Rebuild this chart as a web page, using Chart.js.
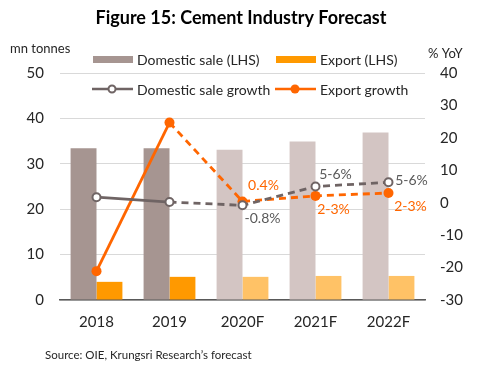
<!DOCTYPE html>
<html>
<head>
<meta charset="utf-8">
<script src="https://cdn.jsdelivr.net/npm/chart.js@4/dist/chart.umd.min.js"></script>
<style>
  html, body { margin: 0; padding: 0; background: #fff; }
  #wrap { width: 501px; height: 370px; }
</style>
</head>
<body>
<div id="wrap"><canvas id="c" width="501" height="370"></canvas></div>
<script>
// data
var years = ['2018', '2019', '2020F', '2021F', '2022F'];
var domesticSale = [33.4, 33.4, 33.1, 34.9, 36.9];
var exportSale = [4.0, 5.1, 5.1, 5.3, 5.3];
var domesticGrowth = [1.7, 0.2, -0.8, 5.0, 6.3];
var exportGrowth = [-21.1, 24.7, 0.4, 2.1, 3.0];
var domesticTags = [null, null, '-0.8%', '5-6%', '5-6%'];
var exportTags = [null, null, '0.4%', '2-3%', '2-3%'];
var leftRange = [0, 50];
var rightRange = [-30, 40];

var FONT = 'Lato, "Open Sans", sans-serif';
var C = {
  dom: '#A69591', domF: '#D3C5C3',
  exp: '#FF9900', expF: '#FFC266',
  domLine: '#6F6464', expLine: '#FF6600',
  grid: '#D9D9D9', axis: '#595959', text: '#262626'
};
var nActual = 2; // first two years are actual, rest are forecast

function shade(a, f) {
  return years.map(function(y, i) { return i < nActual ? a : f; });
}
function dashAfter(ctx) {
  return ctx.p0DataIndex >= nActual - 1 ? [7, 5] : undefined;
}

// label offsets relative to point (styling, not data)
var tagOffsets = {
  2: { dom: [20, 13], exp: [21, -16] },
  3: { dom: [20, -12], exp: [18, 14] },
  4: { dom: [23, -2], exp: [22, 13] }
};

var decor = {
  id: 'decor',
  afterDraw: function(chart) {
    var ctx = chart.ctx;
    ctx.save();
    // title
    ctx.fillStyle = '#000';
    ctx.font = 'bold 18px ' + FONT;
    ctx.textAlign = 'center';
    ctx.textBaseline = 'middle';
    ctx.fillText('Figure 15: Cement Industry Forecast', 241, 18);
    // axis units
    ctx.fillStyle = C.text;
    ctx.font = '13px ' + FONT;
    ctx.textAlign = 'left';
    ctx.fillText('mn tonnes', 10, 49);
    ctx.fillText('% YoY', 428, 54);
    // source
    ctx.font = '11.5px ' + FONT;
    ctx.fillText('Source: OIE, Krungsri Research\u2019s forecast', 45, 355);

    // legend
    ctx.font = '14px ' + FONT;
    ctx.fillStyle = C.dom; ctx.fillRect(93, 56, 40, 7);
    ctx.fillStyle = C.exp; ctx.fillRect(276, 56, 40, 7);
    ctx.fillStyle = C.text;
    ctx.fillText('Domestic sale (LHS)', 137, 60);
    ctx.fillText('Export (LHS)', 320, 60);
    ctx.lineWidth = 2.5;
    ctx.strokeStyle = C.domLine;
    ctx.beginPath(); ctx.moveTo(92, 89); ctx.lineTo(133, 89); ctx.stroke();
    ctx.beginPath(); ctx.arc(112, 89, 3.5, 0, Math.PI * 2);
    ctx.fillStyle = '#fff'; ctx.fill(); ctx.lineWidth = 2; ctx.stroke();
    ctx.lineWidth = 2.5;
    ctx.strokeStyle = C.expLine;
    ctx.beginPath(); ctx.moveTo(275, 89); ctx.lineTo(316, 89); ctx.stroke();
    ctx.beginPath(); ctx.arc(295, 89, 4.5, 0, Math.PI * 2);
    ctx.fillStyle = C.expLine; ctx.fill();
    ctx.fillStyle = C.text;
    ctx.fillText('Domestic sale growth', 137, 90);
    ctx.fillText('Export growth', 320, 90);

    // point tags
    ctx.font = '14px ' + FONT;
    ctx.textAlign = 'center';
    var domPts = chart.getDatasetMeta(2).data;
    var expPts = chart.getDatasetMeta(3).data;
    Object.keys(tagOffsets).forEach(function(k) {
      var i = +k, o = tagOffsets[k];
      if (domesticTags[i]) {
        ctx.fillStyle = '#595959';
        ctx.fillText(domesticTags[i], domPts[i].x + o.dom[0], domPts[i].y + o.dom[1]);
      }
      if (exportTags[i]) {
        ctx.fillStyle = C.expLine;
        ctx.fillText(exportTags[i], expPts[i].x + o.exp[0], expPts[i].y + o.exp[1]);
      }
    });
    ctx.restore();
  }
};

new Chart(document.getElementById('c'), {
  data: {
    labels: years,
    datasets: [
      { type: 'bar', label: 'Domestic sale (LHS)', data: domesticSale, yAxisID: 'y',
        backgroundColor: shade(C.dom, C.domF), order: 3,
        categoryPercentage: 0.71, barPercentage: 1 },
      { type: 'bar', label: 'Export (LHS)', data: exportSale, yAxisID: 'y',
        backgroundColor: shade(C.exp, C.expF), order: 3,
        categoryPercentage: 0.71, barPercentage: 1 },
      { type: 'line', label: 'Domestic sale growth', data: domesticGrowth, yAxisID: 'y1',
        borderColor: C.domLine, borderWidth: 2.8, pointRadius: 4, pointBorderWidth: 2,
        pointBackgroundColor: '#fff', pointBorderColor: C.domLine, order: 1,
        segment: { borderDash: dashAfter } },
      { type: 'line', label: 'Export growth', data: exportGrowth, yAxisID: 'y1',
        borderColor: C.expLine, borderWidth: 2.8, pointRadius: 5, pointBorderWidth: 0,
        pointBackgroundColor: C.expLine, order: 2,
        segment: { borderDash: dashAfter } }
    ]
  },
  options: {
    responsive: false,
    animation: false,
    devicePixelRatio: 1,
    layout: { padding: { top: 73, left: 0, right: 0, bottom: 0 } },
    plugins: { legend: { display: false }, tooltip: { enabled: false }, title: { display: false } },
    scales: {
      x: {
        grid: { display: false, drawTicks: false },
        border: { color: C.axis, width: 1.5 },
        ticks: { color: C.text, font: { family: FONT, size: 15 }, padding: 13 },
        afterFit: function(s) { s.height = 70; }
      },
      y: {
        position: 'left', min: leftRange[0], max: leftRange[1],
        grid: { color: C.grid, drawTicks: false },
        border: { display: false },
        ticks: { stepSize: 10, color: C.text, font: { family: FONT, size: 15 }, padding: 16 },
        afterFit: function(s) { s.width = 60; }
      },
      y1: {
        position: 'right', min: rightRange[0], max: rightRange[1],
        grid: { display: false, drawTicks: false },
        border: { display: false },
        ticks: { stepSize: 10, color: C.text, font: { family: FONT, size: 15 }, padding: 15 },
        afterFit: function(s) { s.width = 76; }
      }
    }
  },
  plugins: [decor]
});
</script>
</body>
</html>
